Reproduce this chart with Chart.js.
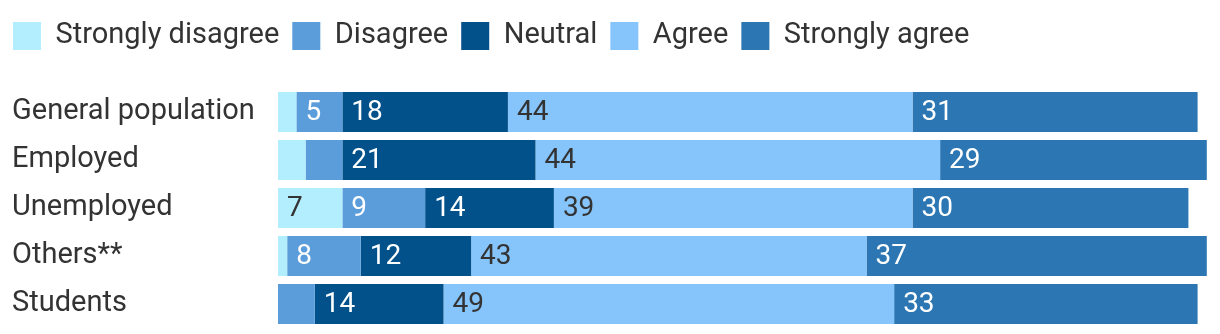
<!DOCTYPE html>
<html>
<head>
<meta charset="utf-8">
<script src="https://cdn.jsdelivr.net/npm/chart.js@4"></script>
<style>
    body { margin: 0; background: #fff; }
    #wrap { width: 1220px; height: 334px; }
</style>
</head>
<body>
<div id="wrap"><canvas id="myChart"></canvas></div>
<script>
const categories = ['General population', 'Employed', 'Unemployed', 'Others**', 'Students']
const seriesNames = ['Strongly disagree', 'Disagree', 'Neutral', 'Agree', 'Strongly agree']
const stronglyDisagree = [2, 3, 7, 1, 0]
const disagree = [5, 4, 9, 8, 4]
const neutral = [18, 21, 14, 12, 14]
const agree = [44, 44, 39, 43, 49]
const stronglyAgree = [31, 29, 30, 37, 33]

const colors = ['#b2eefd', '#5b9ddb', '#02518a', '#86c5fb', '#2b76b3']
const labelColors = ['#333333', '#ffffff', '#ffffff', '#333333', '#ffffff']
const textColor = '#333333'
const fontName = 'Roboto'

window.onload = function () {
    InitChart()
}

// writes the value inside each bar, left aligned
const barLabels = {
    id: 'barLabels',
    afterDatasetsDraw(chart) {
        const ctx = chart.ctx
        ctx.save()
        ctx.font = '28px ' + fontName
        ctx.textAlign = 'left'
        ctx.textBaseline = 'middle'
        chart.data.datasets.forEach((ds, i) => {
            const meta = chart.getDatasetMeta(i)
            meta.data.forEach((bar, j) => {
                const v = ds.data[j]
                if (v < 5) return
                const p = bar.getProps(['x', 'y', 'base'], true)
                ctx.fillStyle = labelColors[i]
                ctx.fillText(v, Math.min(p.x, p.base) + 9, p.y + 1)
            })
        })
        ctx.restore()
    }
}

// move the category names in from the canvas edge
const shiftLabels = {
    id: 'shiftLabels',
    afterLayout(chart) {
        chart.scales.y.left = 12
    }
}

function InitChart() {
    const values = [stronglyDisagree, disagree, neutral, agree, stronglyAgree]
    const data = {
        labels: categories,
        datasets: seriesNames.map((name, i) => ({
            label: name,
            data: values[i],
            backgroundColor: colors[i],
            borderWidth: 0,
            barPercentage: 1,
            categoryPercentage: 40 / 48
        }))
    }
    const config = {
        type: 'bar',
        data: data,
        options: {
            indexAxis: 'y',
            responsive: true,
            maintainAspectRatio: false,
            animation: false,
            layout: {
                padding: { top: 8.5, left: 0, right: 4, bottom: 6 }
            },
            scales: {
                x: {
                    stacked: true,
                    position: 'top',
                    min: 0,
                    max: 102,
                    grid: { display: false },
                    border: { display: false },
                    ticks: { display: false },
                    afterFit: (s) => {
                        s.height = 27.5
                        s.paddingLeft = 0
                        s.paddingRight = 0
                    }
                },
                y: {
                    stacked: true,
                    grid: { display: false },
                    border: { display: false },
                    ticks: {
                        crossAlign: 'far',
                        color: textColor,
                        font: { family: fontName, size: 29 }
                    },
                    afterFit: (s) => {
                        s.width = 278
                        s.paddingTop = 0
                        s.paddingBottom = 0
                    }
                }
            },
            plugins: {
                legend: {
                    position: 'top',
                    align: 'start',
                    labels: {
                        boxWidth: 28,
                        boxHeight: 28,
                        padding: 13,
                        color: textColor,
                        font: { family: fontName, size: 29 }
                    }
                },
                tooltip: { enabled: false }
            }
        },
        plugins: [barLabels, shiftLabels]
    }
    const myChart = new Chart(
        document.getElementById('myChart'),
        config
    )
}
</script>
</body>
</html>
